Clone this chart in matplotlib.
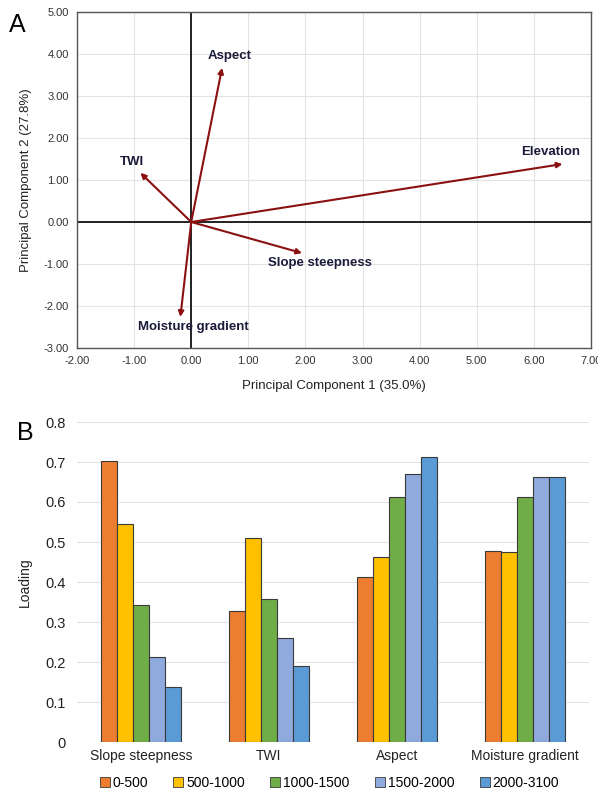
import matplotlib
matplotlib.use("Agg")
import matplotlib.pyplot as plt
import numpy as np
from matplotlib.lines import Line2D

plt.rcParams['font.family'] = ['Liberation Sans', 'DejaVu Sans']

# ---------------- Data ----------------
# Panel A: PCA biplot vectors
vec_names = ["Aspect", "TWI", "Elevation", "Slope steepness", "Moisture gradient"]
vec_pc1 = [0.54, -0.89, 6.50, 1.94, -0.19]
vec_pc2 = [3.67, 1.17, 1.38, -0.74, -2.26]

# Panel B: loadings
categories = ["Slope steepness", "TWI", "Aspect", "Moisture gradient"]
series_names = ["0-500", "500-1000", "1000-1500", "1500-2000", "2000-3100"]
s_0_500 = [0.703, 0.328, 0.412, 0.478]
s_500_1000 = [0.545, 0.510, 0.463, 0.475]
s_1000_1500 = [0.343, 0.358, 0.613, 0.612]
s_1500_2000 = [0.212, 0.260, 0.670, 0.663]
s_2000_3100 = [0.138, 0.190, 0.712, 0.663]
series_values = [s_0_500, s_500_1000, s_1000_1500, s_1500_2000, s_2000_3100]

# ---------------- Styles / layout ----------------
colors = ["#ED7D31", "#FFC000", "#70AD47", "#8FAADC", "#5B9BD5"]
arrow_color = "#8B1010"
label_color = "#1B1B3A"
label_offsets = [(0.13, 0.28), (-0.14, 0.26), (-0.2, 0.29), (0.32, -0.24), (0.22, -0.24)]

fig = plt.figure(figsize=(5.98, 7.92), dpi=100)

# ---------------- Panel A ----------------
axA = fig.add_axes([77/598, 1-348/792, (591-77)/598, (348-12)/792])
axA.set_xlim(-2, 7)
axA.set_ylim(-3, 5)
axA.set_xticks(np.arange(-2, 7.01, 1))
axA.set_yticks(np.arange(-3, 5.01, 1))
axA.set_xticklabels([f"{v:.2f}" for v in np.arange(-2, 7.01, 1)])
axA.set_yticklabels([f"{v:.2f}" for v in np.arange(-3, 5.01, 1)])
axA.tick_params(axis='both', labelsize=8, length=0, colors="#333333", pad=6)
axA.grid(True, color="#E3E3E3", linewidth=0.8)
axA.set_axisbelow(True)
for sp in axA.spines.values():
    sp.set_color("#555555")
    sp.set_linewidth(1.0)
axA.axhline(0, color="#222222", linewidth=1.4, zorder=2)
axA.axvline(0, color="#222222", linewidth=1.4, zorder=2)

for name, x, y, (dx, dy) in zip(vec_names, vec_pc1, vec_pc2, label_offsets):
    axA.annotate("", xy=(x, y), xytext=(0, 0),
                 arrowprops=dict(arrowstyle="-|>", color=arrow_color, lw=1.5,
                                 mutation_scale=8, shrinkA=0, shrinkB=0), zorder=3)
    axA.text(x + dx, y + dy, name, ha="center", va="center", fontsize=9.5,
             fontweight="bold", color=label_color, zorder=4)

axA.set_xlabel("Principal Component 1 (35.0%)", fontsize=9.5, color="#222222", labelpad=10)
axA.set_ylabel("Principal Component 2 (27.8%)", fontsize=9.5, color="#222222", labelpad=8)

fig.text(9/598, 1-25/792, "A", fontsize=18, va="center", ha="left")
fig.text(17/598, 1-433/792, "B", fontsize=18, va="center", ha="left")

# ---------------- Panel B ----------------
axB = fig.add_axes([77/598, 1-742/792, (589-77)/598, (742-422)/792])
n_cat = len(categories)
n_ser = len(series_names)
bw = 0.125
xc = np.arange(n_cat) + 0.5
for i, (vals, c) in enumerate(zip(series_values, colors)):
    axB.bar(xc + (i - (n_ser - 1) / 2) * bw, vals, width=bw, color=c,
            edgecolor="#3A3A3A", linewidth=0.8, zorder=3, label=series_names[i])
axB.set_xlim(0, n_cat)
axB.set_ylim(0, 0.8)
axB.set_yticks(np.arange(0, 0.81, 0.1))
axB.set_yticklabels(["0"] + [f"{v:.1f}" for v in np.arange(0.1, 0.81, 0.1)])
axB.set_xticks(xc)
axB.set_xticklabels(categories)
axB.tick_params(axis='both', labelsize=10.5, length=0, colors="#222222")
axB.tick_params(axis='x', labelsize=10, pad=5)
axB.tick_params(axis='y', pad=8)
axB.grid(True, axis='y', color="#E3E3E3", linewidth=0.8)
axB.set_axisbelow(True)
for sp in axB.spines.values():
    sp.set_visible(False)
axB.set_ylabel("Loading", fontsize=10, color="#222222", labelpad=10)

handles = [Line2D([0], [0], marker='s', linestyle='none', markersize=7,
                  markerfacecolor=c, markeredgecolor="#3A3A3A", markeredgewidth=0.6)
           for c in colors]
fig.legend(handles, series_names, loc="center", ncol=5,
           bbox_to_anchor=(329/598, 1-783/792), frameon=False, fontsize=10,
           handletextpad=0.15, columnspacing=1.8, handlelength=0.8)

fig.savefig("out.png", dpi=100)
